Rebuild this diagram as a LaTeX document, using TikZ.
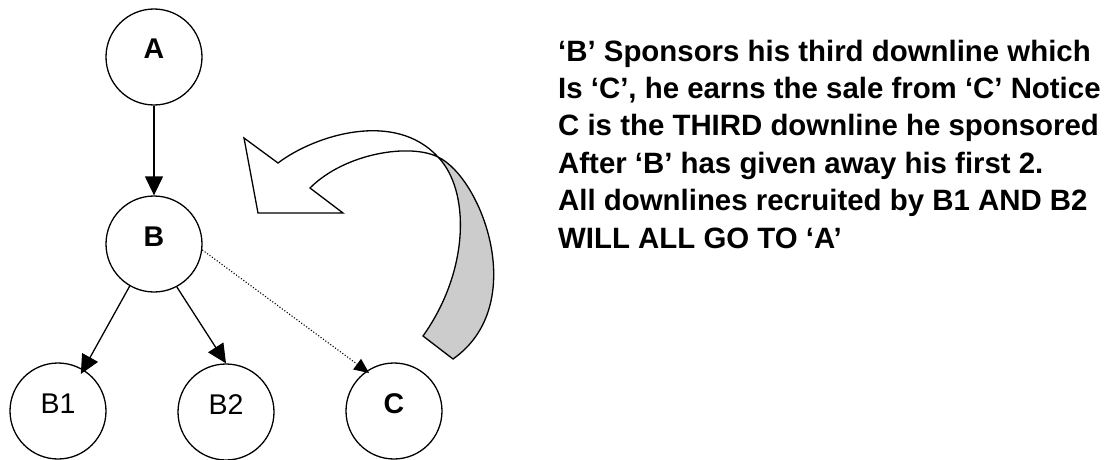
\documentclass[tikz,border=0pt]{standalone}
\usepackage{fontspec}
\setmainfont{Liberation Sans}
\usetikzlibrary{arrows.meta}

\begin{document}
\begin{tikzpicture}[x=1pt,y=-1pt]
\tikzset{
    member/.style={circle, draw, line width=1.3pt, minimum size=96pt, inner sep=0pt,
        text height=20.4pt, text depth=16.4pt, font=\fontsize{28.5}{28.5}\selectfont},
    leader/.style={member, font=\fontsize{28.5}{28.5}\selectfont\bfseries},
    sponsor line/.style={line width=1.3pt, -{Triangle[length=19pt,width=18pt]}},
    third line/.style={line width=1.1pt, dash pattern=on 1.1pt off 1.9pt,
        -{Triangle[length=15pt,width=13pt]}},
    band/.style={line width=1.3pt, line join=miter},
    note/.style={anchor=north west, align=left, inner sep=0pt,
        font=\fontsize{29.4}{37.4}\selectfont\bfseries}}

\useasboundingbox (0,0) rectangle (1109,460);

% the tree
\node[leader] (A) at (154,57) {A};
\node[leader] (B) at (154,244) {B};
\node[member] (B1) at (58,411) {B1};
\node[member] (B2) at (226,412) {B2};
\node[leader] (C) at (394,411) {C};

\draw[sponsor line] (A.south) -- (B.north);
\draw[sponsor line] (B.240) -- ([shift={(0,6)}]B1.62);
\draw[sponsor line] (B.298) -- (B2.north);
\draw[third line] (B.353) -- ([shift={(-2,5)}]C.118);

% curved arrow back to A
\path (438,157) coordinate (X);
\draw[band, fill=gray!40] (X) .. controls (482,178) and (530,305) .. (453,359)
    -- (423,336) .. controls (470,270) and (470,190) .. (X);
\draw[band, fill=white] (244,138) -- (258,213) -- (343,213) -- (310,188)
    .. controls (345,153) and (410,143) .. (X)
    .. controls (395,110) and (315,135) .. (278,163) -- cycle;

\node[note] (story) at (558,39.6) {‘B’ Sponsors his third downline which\\
Is ‘C’, he earns the sale from ‘C’ Notice\\
C is the THIRD downline he sponsored\\
After ‘B’ has given away his first 2.\\
All downlines recruited by B1 AND B2\\
WILL ALL GO TO ‘A’};

\end{tikzpicture}
\end{document}
